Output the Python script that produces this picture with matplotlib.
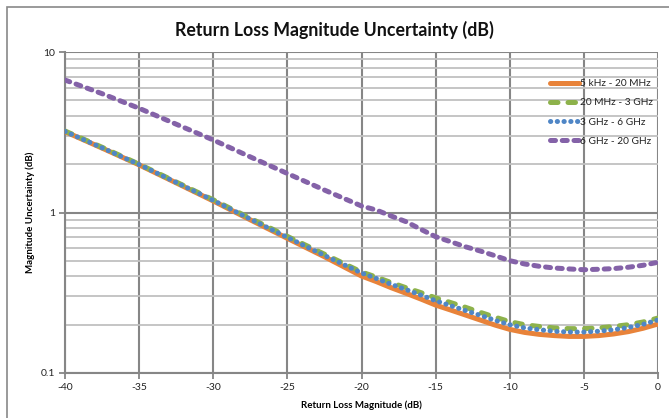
import matplotlib
matplotlib.use("Agg")
import matplotlib.pyplot as plt
from matplotlib.patches import Rectangle
from matplotlib.ticker import LogLocator, FixedLocator, NullFormatter, FuncFormatter

plt.rcParams['font.family'] = ['Lato', 'DejaVu Sans']

return_loss = [-40, -37.5, -35, -32.5, -30, -27.5, -25, -22.5,
               -20, -19, -18, -17, -16, -15, -14, -13, -12, -11, -10,
               -9, -8, -7, -6, -5, -4, -3, -2, -1, 0]
unc_5k_20M = [3.19, 2.52, 1.98, 1.53, 1.18, 0.90, 0.69, 0.53,
              0.402, 0.371, 0.340, 0.314, 0.289, 0.265, 0.247, 0.230, 0.214, 0.199, 0.187,
              0.179, 0.174, 0.171, 0.169, 0.169, 0.171, 0.175, 0.181, 0.190, 0.202]
unc_20M_3G = [3.22, 2.55, 2.00, 1.55, 1.20, 0.92, 0.71, 0.55,
              0.426, 0.396, 0.366, 0.340, 0.317, 0.294, 0.275, 0.257, 0.239, 0.223, 0.209,
              0.200, 0.195, 0.191, 0.189, 0.189, 0.191, 0.195, 0.200, 0.208, 0.220]
unc_3G_6G = [3.20, 2.53, 1.99, 1.54, 1.19, 0.91, 0.70, 0.54,
             0.420, 0.388, 0.357, 0.331, 0.306, 0.282, 0.263, 0.245, 0.229, 0.213, 0.200,
             0.191, 0.186, 0.182, 0.180, 0.180, 0.182, 0.186, 0.192, 0.201, 0.214]
unc_6G_20G = [6.69, 5.50, 4.46, 3.55, 2.83, 2.22, 1.75, 1.38,
              1.098, 1.036, 0.951, 0.877, 0.786, 0.707, 0.658, 0.612, 0.576, 0.538, 0.501,
              0.478, 0.462, 0.451, 0.445, 0.440, 0.443, 0.447, 0.456, 0.469, 0.490]
labels = ['5 kHz - 20 MHz', '20 MHz - 3 GHz', '3 GHz - 6 GHz', '6 GHz - 20 GHz']
x_ticks = [-40, -35, -30, -25, -20, -15, -10, -5, 0]

W, H = 669, 418
fig = plt.figure(figsize=(W / 100, H / 100), dpi=100)
fig.patch.set_facecolor('white')
fig.patches.append(Rectangle((7 / W, -0.1), 1.2, 1.1 - 7 / H, transform=fig.transFigure,
                             fill=False, edgecolor='#898989', lw=1.2))

ax = fig.add_axes([65 / W, 1 - 373 / H, (658 - 65) / W, (373 - 52) / H])
ax.set_yscale('log')
ax.set_xlim(-40, 0)
ax.set_ylim(0.1, 10)

major_c = '#868686'
minor_c = '#c0c0c0'

ax.xaxis.set_major_locator(FixedLocator(x_ticks))
ax.yaxis.set_major_locator(LogLocator(base=10, numticks=5))
ax.yaxis.set_minor_locator(LogLocator(base=10, subs=range(2, 10), numticks=20))
ax.yaxis.set_minor_formatter(NullFormatter())
ax.yaxis.set_major_formatter(FuncFormatter(lambda v, p: f"{v:g}"))
ax.xaxis.set_major_formatter(FuncFormatter(lambda v, p: f"{v:g}"))

ax.grid(True, which='minor', axis='y', color=minor_c, lw=1.3)
ax.grid(True, which='major', axis='y', color=major_c, lw=1.5)
ax.grid(True, which='major', axis='x', color=major_c, lw=1.5)
ax.set_axisbelow(True)
for s in ax.spines.values():
    s.set_color(major_c)
    s.set_linewidth(1.5)
ax.spines['top'].set_visible(False)
ax.spines['right'].set_visible(False)
ax.tick_params(which='major', length=4, width=1.3, color=major_c, labelsize=7.5,
               labelcolor='#222222', pad=3)
ax.tick_params(which='minor', length=0)

lw = 3.6
ax.plot(return_loss, unc_5k_20M, color='#E8833A', lw=lw, solid_capstyle='round',
        label=labels[0], zorder=3)
ax.plot(return_loss, unc_20M_3G, color='#8DB24B', lw=lw, dashes=(1.5, 2.0),
        dash_capstyle='round', label=labels[1], zorder=4)
ax.plot(return_loss, unc_3G_6G, color='#4F86C6', lw=lw, dashes=(0.05, 1.3),
        dash_capstyle='round', label=labels[2], zorder=5)
ax.plot(return_loss, unc_6G_20G, color='#8462A8', lw=lw, dashes=(1.0, 1.35),
        dash_capstyle='round', label=labels[3], zorder=4)

leg = ax.legend(loc='upper left',
                bbox_to_anchor=((550 - 65) / (658 - 65), 1 - (79 - 52) / (373 - 52)),
                frameon=False, fontsize=7.3, handlelength=2.9, handletextpad=0.1,
                labelspacing=1.0, borderaxespad=0, borderpad=0)
for t in leg.get_texts():
    t.set_color('#222222')

ax.set_xlabel('Return Loss Magnitude (dB)', fontsize=7, fontweight='bold', labelpad=6)
ax.set_ylabel('Magnitude Uncertainty (dB)', fontsize=7, fontweight='bold', labelpad=4.5)
fig.text(0.5, 1 - 30 / H, 'Return Loss Magnitude Uncertainty (dB)', ha='center', va='center',
         fontsize=12.8, fontweight='bold', color='#111111')

fig.savefig('out.png', dpi=100, facecolor='white')
